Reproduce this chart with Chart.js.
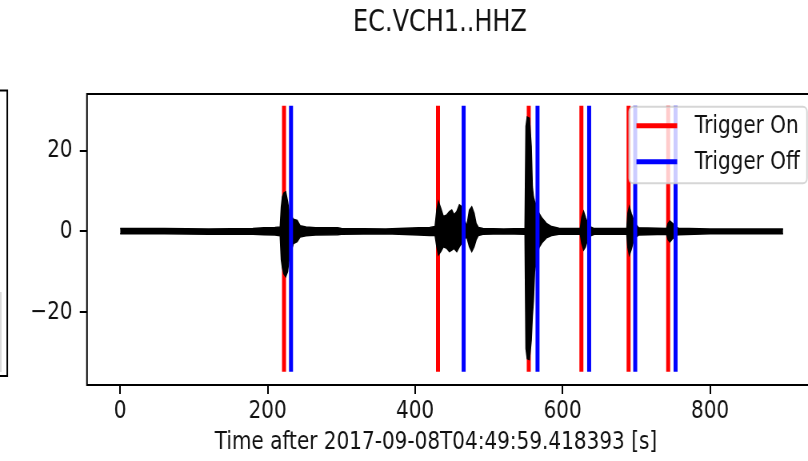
<!DOCTYPE html>
<html>
<head>
<meta charset="utf-8">
<title>EC.VCH1..HHZ</title>
<script src="https://cdn.jsdelivr.net/npm/chart.js@4.4.1/dist/chart.umd.min.js"></script>
<style>
  html, body { margin: 0; padding: 0; overflow: hidden; background: #fff; }
  /* the figure is drawn wide and squeezed horizontally */
  #trace { display: block; transform: scaleX(0.8); transform-origin: 0 0; }
</style>
</head>
<body>
<canvas id="trace" width="1100" height="461"></canvas>
<script>
// envelope of the HHZ trace: time (s), upper and lower amplitude
const waveTime = [0, 60, 120, 180, 195, 210, 217, 218.5, 220, 222, 224.5, 227, 229, 231, 235, 240, 244, 252, 265, 295, 300, 360,
  405, 420, 427, 429.4, 431.6, 434.8, 438.3, 443, 446.5, 449.7, 452.8, 456.5, 460, 463.3, 466.4, 470, 473.6, 476.8, 480, 482.7, 485.8, 492,
  520, 549, 550.3, 552, 555, 557.5, 559, 560.5, 562, 565, 568, 572, 578, 585, 595, 610,
  624, 626, 628.5, 631, 634, 638, 643, 687, 688.5, 690.5, 693, 696, 699, 703,
  741, 743, 745.5, 749, 753, 757, 800, 899];
const waveTop = [0.7, 0.7, 0.6, 0.7, 0.9, 1.0, 1.1, 6.0, 8.5, 9.5, 9.8, 7.5, 5.0, 4.0, 3.0, 2.7, 1.4, 1.1, 0.9, 0.9, 0.7, 0.6,
  0.9, 1.0, 1.2, 5.3, 7.4, 5.7, 3.7, 4.1, 4.9, 5.3, 4.1, 4.9, 6.6, 6.1, 3.3, 1.2, 5.3, 6.1, 4.5, 2.0, 1.0, 0.7,
  0.6, 0.7, 26, 28.3, 28, 21, 11, 8.5, 7.5, 6, 4.5, 3.3, 2.0, 1.2, 0.8, 0.7,
  0.7, 3.5, 4.9, 3.5, 2.0, 1.1, 0.7, 0.7, 4.5, 6.1, 4.5, 3.0, 1.8, 0.9,
  0.7, 2.0, 2.6, 2.0, 1.2, 0.8, 0.6, 0.6];
const waveBottom = [-0.6, -0.6, -0.7, -0.7, -0.8, -0.9, -1.1, -7.0, -9.0, -10.5, -11.2, -10.0, -7.0, -5.4, -3.0, -2.5, -1.4, -1.1, -0.9, -0.8, -0.7, -0.6,
  -0.9, -1.0, -1.0, -3.8, -5.8, -5.0, -3.8, -4.2, -5.0, -4.6, -4.2, -5.0, -3.8, -2.9, -2.1, -1.3, -3.8, -5.0, -3.8, -2.1, -1.0, -0.7,
  -0.6, -0.7, -29, -31.5, -31.7, -27, -21, -17, -10, -6.5, -4.0, -2.8, -1.6, -1.0, -0.7, -0.7,
  -0.7, -3.0, -4.6, -3.8, -2.0, -1.1, -0.7, -0.7, -4.0, -5.8, -4.5, -2.5, -1.5, -0.9,
  -0.7, -2.0, -2.6, -1.8, -1.2, -0.8, -0.6, -0.6];

// STA/LTA trigger times (s)
const triggerOn = [222.2, 431.0, 554.1, 625.5, 689.5, 743.2];
const triggerOff = [231.7, 465.8, 566.0, 636.0, 698.5, 753.2];

const xTicks = [0, 200, 400, 600, 800];
const yTicks = [-20, 0, 20];
const xRange = [-45, 945];
const yRange = [-38, 34];
const markerSpan = [-34.7, 31.1];

const figTitle = 'EC.VCH1..HHZ';
const xLabel = 'Time after 2017-09-08T04:49:59.418393 [s]';

const FONT = 'DejaVu Sans';
const INK = '#111';

function markerPoints(times) {
  const pts = [];
  times.forEach(t => {
    pts.push({x: t, y: markerSpan[0]}, {x: t, y: markerSpan[1]}, {x: t, y: null});
  });
  return pts;
}

function minusFmt(v) {
  return v < 0 ? '\u2212' + Math.abs(v) : String(v);
}

// box around the plot plus the edge of the neighbouring panel
const framePlugin = {
  id: 'frame',
  afterDatasetsDraw(chart) {
    const {ctx, chartArea: a} = chart;
    ctx.save();
    ctx.strokeStyle = '#000';
    ctx.lineWidth = 2;
    ctx.strokeRect(a.left, a.top, a.right - a.left, a.bottom - a.top);
    ctx.beginPath();
    ctx.moveTo(0, 90.5);
    ctx.lineTo(9.1, 90.5);
    ctx.lineTo(9.1, 376);
    ctx.lineTo(0, 376);
    ctx.stroke();
    ctx.strokeStyle = '#cfcfcf';
    ctx.lineWidth = 1.5;
    ctx.beginPath();
    ctx.moveTo(1, 292);
    ctx.lineTo(1, 372);
    ctx.stroke();
    ctx.restore();
  }
};

// figure title and x label, centred on the whole figure
const figureText = {
  id: 'figureText',
  afterDraw(chart) {
    const ctx = chart.ctx;
    ctx.save();
    ctx.fillStyle = INK;
    ctx.textAlign = 'center';
    ctx.textBaseline = 'middle';
    ctx.font = '30px "' + FONT + '"';
    ctx.fillText(figTitle, 550, 23.4);
    ctx.font = '25px "' + FONT + '"';
    ctx.fillText(xLabel, 545, 442);
    ctx.restore();
  }
};

// legend in the upper right corner of the axes
const insideLegend = {
  id: 'insideLegend',
  afterDraw(chart) {
    const {ctx, chartArea: a} = chart;
    const items = chart.data.datasets
      .filter(d => d.legendRank !== undefined)
      .sort((p, q) => p.legendRank - q.legendRank);
    ctx.save();
    ctx.font = '25px "' + FONT + '"';
    const textW = Math.max(...items.map(d => ctx.measureText(d.label).width));
    const pad = 9.1, handle = 50.9, gap = 22.1, rowH = 36;
    const right = a.right - 12.5;
    const left = right - (pad + handle + gap + textW + pad);
    const top = a.top + 12.7;
    const height = 76.6;
    ctx.beginPath();
    ctx.roundRect(left, top, right - left, height, 5);
    ctx.fillStyle = 'rgba(255,255,255,0.8)';
    ctx.fill();
    ctx.strokeStyle = 'rgba(204,204,204,0.8)';
    ctx.lineWidth = 2;
    ctx.stroke();
    items.forEach((d, i) => {
      const y = top + 19 + i * rowH;
      ctx.strokeStyle = d.borderColor;
      ctx.lineWidth = 5;
      ctx.beginPath();
      ctx.moveTo(left + pad, y);
      ctx.lineTo(left + pad + handle, y);
      ctx.stroke();
      ctx.fillStyle = INK;
      ctx.textBaseline = 'middle';
      ctx.textAlign = 'left';
      ctx.fillText(d.label, left + pad + handle + gap, y + 1);
    });
    ctx.restore();
  }
};

Chart.defaults.font.family = FONT;
Chart.defaults.color = INK;

new Chart(document.getElementById('trace'), {
  type: 'line',
  data: {
    datasets: [
      {
        label: 'Trigger Off',
        data: markerPoints(triggerOff),
        borderColor: '#0000ff',
        borderWidth: 5,
        borderCapStyle: 'butt',
        order: 0,
        legendRank: 1
      },
      {
        label: 'HHZ upper',
        data: waveTime.map((t, i) => ({x: t, y: waveTop[i]})),
        borderColor: '#000',
        backgroundColor: '#000',
        borderWidth: 1.5,
        fill: '+1',
        order: 1
      },
      {
        label: 'HHZ lower',
        data: waveTime.map((t, i) => ({x: t, y: waveBottom[i]})),
        borderColor: '#000',
        borderWidth: 1.5,
        fill: false,
        order: 1
      },
      {
        label: 'Trigger On',
        data: markerPoints(triggerOn),
        borderColor: '#ff0000',
        borderWidth: 5,
        borderCapStyle: 'butt',
        order: 2,
        legendRank: 0
      }
    ]
  },
  options: {
    responsive: false,
    animation: false,
    layout: { padding: { left: 38, right: 78.75, top: 94, bottom: 0 } },
    elements: { point: { radius: 0 }, line: { tension: 0 } },
    plugins: {
      legend: { display: false },
      tooltip: { enabled: false },
      title: { display: false }
    },
    scales: {
      x: {
        type: 'linear',
        min: xRange[0],
        max: xRange[1],
        afterBuildTicks: s => { s.ticks = xTicks.map(v => ({value: v})); },
        afterFit: s => { s.height = 76; },
        grid: { drawOnChartArea: false, drawTicks: true, tickLength: 9, color: '#000', lineWidth: 2 },
        border: { display: false },
        ticks: { font: { size: 25 }, padding: 2.5, color: INK, maxRotation: 0, autoSkip: false }
      },
      y: {
        type: 'linear',
        min: yRange[0],
        max: yRange[1],
        afterBuildTicks: s => { s.ticks = yTicks.map(v => ({value: v})); },
        afterFit: s => { s.width = 70.75; },
        grid: { drawOnChartArea: false, drawTicks: true, tickLength: 9, color: '#000', lineWidth: 2 },
        border: { display: false },
        ticks: { font: { size: 25 }, padding: 9, color: INK, callback: v => minusFmt(v) }
      }
    }
  },
  plugins: [framePlugin, figureText, insideLegend]
});
</script>
</body>
</html>
